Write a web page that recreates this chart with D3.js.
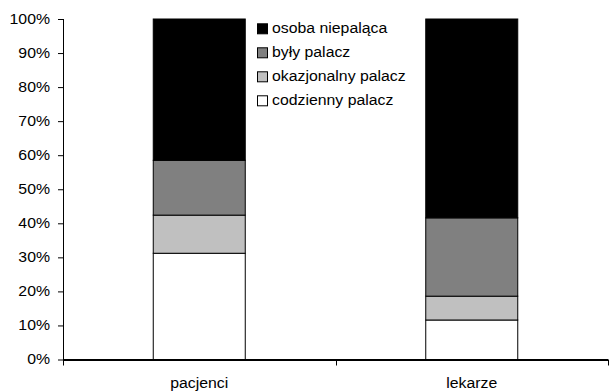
<!DOCTYPE html>
<html>
<head>
<meta charset="utf-8">
<script src="https://cdn.jsdelivr.net/npm/d3@7/dist/d3.min.js"></script>
<style>
  html, body { margin: 0; padding: 0; background: #fff; }
  svg { display: block; }
  text { font-family: "Liberation Sans", Arial, sans-serif; fill: #000; }
</style>
</head>
<body>
<svg id="chart" width="609" height="391"></svg>
<script>
// Respondent groups along the x axis
const categories = ["pacjenci", "lekarze"];

// Smoking status shares (%), stacked bottom to top
const codzienny   = [31.2, 11.6];
const okazjonalny = [11.2, 7.0];
const byly        = [16.1, 23.0];
const niepalaca   = [41.5, 58.4];

const seriesNames  = ["codzienny palacz", "okazjonalny palacz", "były palacz", "osoba niepaląca"];
const seriesValues = [codzienny, okazjonalny, byly, niepalaca];
const seriesColors = ["#ffffff", "#c0c0c0", "#808080", "#000000"];

const yTicks = [0, 10, 20, 30, 40, 50, 60, 70, 80, 90, 100];

const svg = d3.select("#chart");
const plotLeft = 63, plotRight = 608, plotTop = 19, plotBottom = 359.5;
const fontSize = "14px";

// widen glyphs a little, like the wide sans used in the labels
function widen(sel, k = 1.13) {
  sel.each(function () {
    const w = this.getComputedTextLength();
    d3.select(this).attr("textLength", w * k).attr("lengthAdjust", "spacingAndGlyphs");
  });
}

const x = d3.scaleBand().domain(categories).range([plotLeft, plotRight]).paddingInner(0).paddingOuter(0);
const y = d3.scaleLinear().domain([0, 100]).range([plotBottom, plotTop]);

const barW = 92;

// rows for d3.stack
const rows = categories.map((c, i) => {
  const r = { cat: c };
  seriesNames.forEach((s, j) => r[s] = seriesValues[j][i]);
  return r;
});
const stacked = d3.stack().keys(seriesNames)(rows);

const g = svg.append("g");
stacked.forEach((layer, j) => {
  g.selectAll(null).data(layer).join("rect")
    .attr("x", d => x(d.data.cat) + x.bandwidth() / 2 - barW / 2)
    .attr("width", barW)
    .attr("y", d => y(d[1]))
    .attr("height", d => y(d[0]) - y(d[1]))
    .attr("fill", seriesColors[j])
    .attr("stroke", "#000")
    .attr("stroke-width", 1);
});

// y axis
const yAxis = d3.axisLeft(y).tickValues(yTicks).tickFormat(d => d + "%").tickSize(5).tickPadding(8);
const ya = svg.append("g").attr("transform", `translate(${plotLeft},0)`).call(yAxis);
ya.select(".domain").attr("stroke", "#000").attr("d", `M0.5,${plotTop}V${plotBottom}`);
ya.selectAll(".tick line").attr("stroke", "#000");
ya.selectAll(".tick text").style("font-size", fontSize)
  .style("font-family", "Liberation Sans, Arial, sans-serif").attr("fill", "#000");
widen(ya.selectAll(".tick text"));

// x axis
const xa = svg.append("g").attr("transform", `translate(0,${plotBottom})`);
xa.append("line").attr("x1", plotLeft).attr("x2", plotRight).attr("y1", 0.5).attr("y2", 0.5)
  .attr("stroke", "#000").attr("stroke-width", 2);
const bounds = [plotLeft, ...categories.map(c => x(c) + x.bandwidth())];
xa.selectAll(".xt").data(bounds).join("line")
  .attr("x1", d => Math.round(d) + 0.5).attr("x2", d => Math.round(d) + 0.5)
  .attr("y1", 0).attr("y2", 6).attr("stroke", "#000");
const xl = xa.selectAll(".xl").data(categories).join("text")
  .attr("x", d => x(d) + x.bandwidth() / 2)
  .attr("y", 28.5)
  .attr("text-anchor", "middle")
  .style("font-size", fontSize)
  .text(d => d);
widen(xl);

// legend (top entry first)
const legend = svg.append("g").attr("transform", "translate(257,0)");
const order = [3, 2, 1, 0];
order.forEach((j, k) => {
  const base = 33.3 + k * 24;
  legend.append("rect").attr("x", 0.5).attr("y", base - 9.5).attr("width", 10).attr("height", 10)
    .attr("fill", seriesColors[j]).attr("stroke", "#000").attr("stroke-width", 1);
  const t = legend.append("text").attr("x", 15).attr("y", base).style("font-size", fontSize).text(seriesNames[j]);
  widen(t);
});
</script>
</body>
</html>
